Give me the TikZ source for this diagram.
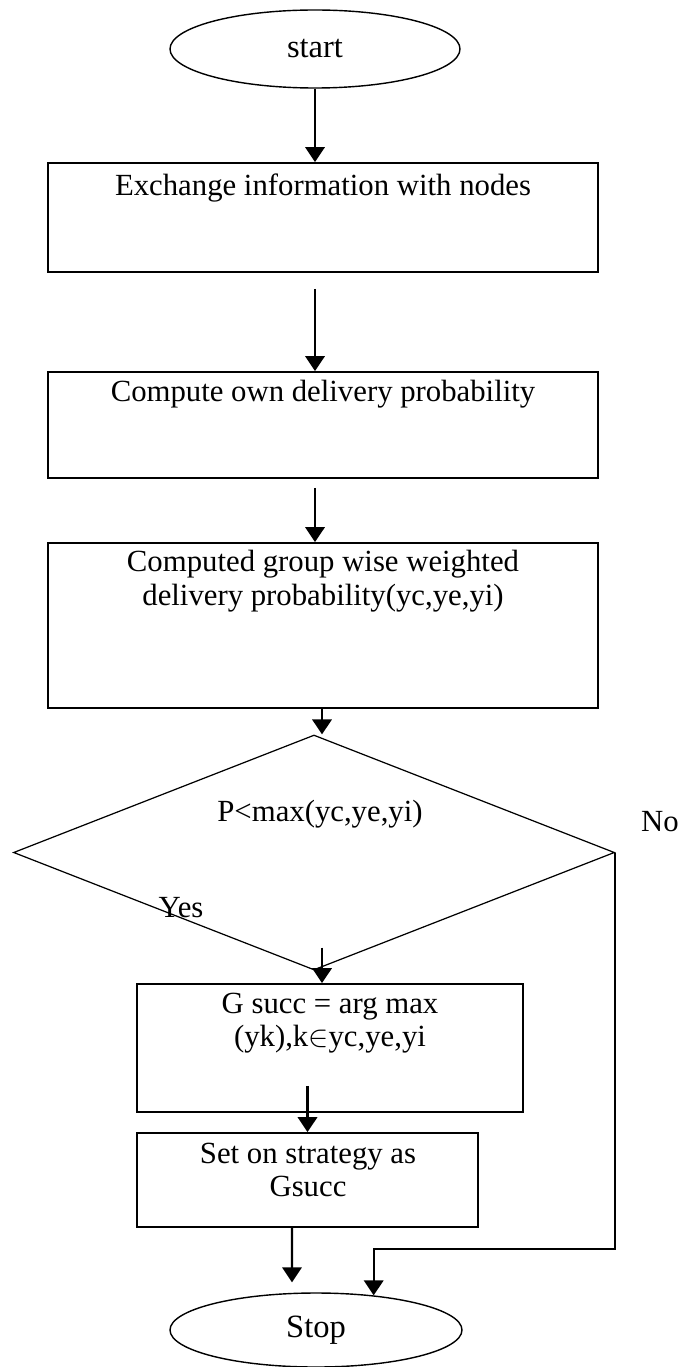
\documentclass[tikz,border=0pt]{standalone}
\usepackage{fontspec}
\setmainfont{Liberation Serif}
\usetikzlibrary{shapes.geometric, arrows.meta, positioning, calc}

\begin{document}
\begin{tikzpicture}[
  font=\fontsize{17.5}{19.2}\selectfont,
  blocco/.style={draw=black, line width=1pt, rectangle, inner sep=0pt},
  ovale/.style={draw=black, line width=0.8pt, ellipse, inner sep=0pt, font=\fontsize{18.5}{20}\selectfont},
  rombo/.style={draw=black, line width=0.7pt, diamond, inner sep=0pt},
  freccia/.style={line width=1.3pt, -{Triangle[width=11pt,length=8.5pt]}},
  etichetta/.style={inner sep=1pt, align=center}
]

\useasboundingbox (0,0) rectangle (13.98,-27.34);

% Inizio e fine
\node[ovale, minimum width=5.80cm, minimum height=1.56cm] (inizio) at (6.30,-0.98) {start};
\node[ovale, minimum width=5.84cm, minimum height=1.48cm] (fine) at (6.32,-26.60) {Stop};

% Blocchi
\node[blocco, minimum width=11.0cm, minimum height=2.18cm] (scambio) at (6.46,-4.35) {};
\node[blocco, minimum width=11.0cm, minimum height=2.12cm] (calcolo) at (6.46,-8.50) {};
\node[blocco, minimum width=11.0cm, minimum height=3.30cm] (gruppo) at (6.46,-12.51) {};
\node[rombo, minimum width=12.02cm, minimum height=4.70cm] (test) at (6.28,-17.05) {};
\node[blocco, minimum width=7.72cm, minimum height=2.56cm] (gsucc) at (6.60,-20.96) {};
\node[blocco, minimum width=6.82cm, minimum height=1.88cm] (strategia) at (6.15,-23.60) {};

% Testi
\node[etichetta] (t1) at (6.46,-3.76) {Exchange information with nodes};
\node[etichetta] (t2) at (6.46,-7.88) {Compute own delivery probability};
\node[etichetta] (t3) at (6.46,-11.62) {Computed group wise weighted\\delivery probability(yc,ye,yi)};
\node[etichetta] (t4) at (6.40,-16.28) {P<max(yc,ye,yi)};
\node[etichetta] (t5) at (6.60,-20.46) {G succ = arg max\\(yk),k$\in$yc,ye,yi};
\node[etichetta] (t6) at (6.16,-23.40) {Set on strategy as\\Gsucc};
\node[etichetta] (no) at (13.20,-16.44) {No};
\node[etichetta] (si) at (3.62,-18.16) {Yes};

% Frecce
\coordinate (gomito) at (7.46,-24.98);
\draw[freccia] (inizio.south) -- (inizio.south |- scambio.north);
\draw[freccia] ([yshift=-0.32cm]scambio.south -| inizio.south) -- (calcolo.north -| inizio.south);
\draw[freccia] ([yshift=-0.18cm]calcolo.south -| inizio.south) -- (gruppo.north -| inizio.south);
\draw[freccia] (gruppo.south -| 6.44,0) -- (test.north -| 6.44,0);
\draw[freccia] ([yshift=0.46cm]test.south -| 6.44,0) -- (gsucc.north -| 6.44,0);
\draw[freccia] ([yshift=0.54cm]gsucc.south -| strategia.north) -- (strategia.north);
\draw[freccia] ([xshift=-0.31cm]strategia.south) -- ([xshift=-0.48cm,yshift=0.2cm]fine.north);
\draw[freccia] (test.east) |- (gomito) -| (fine.31);

\end{tikzpicture}
\end{document}
